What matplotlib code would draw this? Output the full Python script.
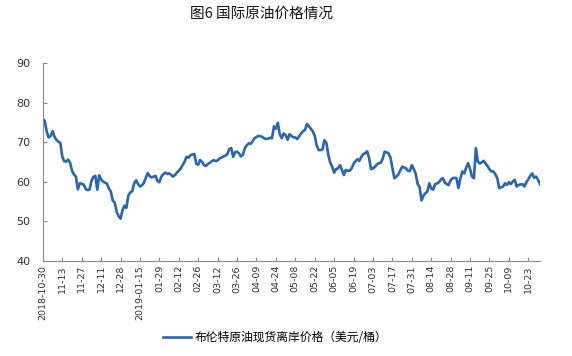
import numpy as np
import matplotlib
matplotlib.use("Agg")
import matplotlib.pyplot as plt

plt.rcParams["font.family"] = ["Noto Sans CJK SC", "DejaVu Sans"]

title = "图6 国际原油价格情况"
series_name = "布伦特原油现货离岸价格（美元/桶）"

# Brent spot price, one value per trading day
brent = [
    75.9, 75.3, 72.6, 71.2, 71.6, 72.8, 71.3, 70.6, 70.1, 69.8,
    66.3, 65.2, 65.1, 65.6, 64.8, 62.8, 61.8, 61.3, 58.1, 59.6,
    59.5, 59.3, 58.2, 57.9, 58.0, 60.2, 61.2, 61.5, 58.0, 61.6,
    60.6, 60.0, 59.8, 59.5, 58.3, 57.5, 55.2, 54.8, 52.4, 51.3,
    50.7, 52.8, 54.0, 53.4, 56.5, 57.3, 57.6, 59.6, 60.4, 59.4,
    58.8, 59.1, 59.7, 61.0, 62.2, 61.4, 61.1, 61.3, 61.5, 60.2,
    59.9, 61.3, 61.9, 62.3, 62.0, 62.1, 61.8, 61.3, 61.7, 62.3,
    62.8, 63.4, 64.2, 65.1, 66.3, 66.1, 66.7, 66.9, 67.0, 64.5,
    64.3, 65.5, 65.0, 64.2, 64.0, 64.5, 64.8, 65.2, 65.5, 65.2,
    65.4, 65.9, 66.1, 66.4, 66.6, 67.0, 68.3, 68.5, 66.3, 67.5,
    67.6, 67.2, 66.4, 66.8, 68.5, 69.2, 69.7, 69.6, 70.2, 71.0,
    71.3, 71.6, 71.5, 71.3, 71.0, 70.8, 70.9, 71.1, 71.0, 74.0,
    73.4, 74.9, 72.0, 71.0, 72.2, 71.8, 70.6, 72.0, 71.6, 71.2,
    71.2, 70.8, 71.5, 72.2, 72.8, 73.1, 74.6, 74.0, 73.4, 72.7,
    71.6, 69.2, 68.0, 68.0, 68.2, 70.5, 69.8, 66.8, 64.8, 63.8,
    62.3, 63.2, 63.4, 64.2, 63.0, 61.7, 63.0, 62.8, 62.8, 63.4,
    64.5, 65.2, 65.7, 65.3, 66.3, 67.0, 67.2, 67.7, 66.0, 63.2,
    63.4, 63.8, 64.4, 64.7, 64.8, 65.8, 67.6, 67.4, 67.2, 66.1,
    63.5, 60.9, 61.3, 61.8, 62.8, 63.8, 63.6, 63.4, 62.8, 62.7,
    64.2, 63.2, 62.0, 59.5, 58.6, 55.3, 56.5, 57.1, 57.5, 59.6,
    58.3, 58.0, 59.4, 59.6, 59.9, 60.6, 60.9, 59.8, 59.4, 59.2,
    60.4, 60.9, 61.0, 60.9, 58.4, 60.8, 62.6, 62.1, 63.6, 64.7,
    63.2, 61.3, 60.9, 68.5, 65.1, 64.6, 64.9, 65.3, 64.6, 64.0,
    63.1, 62.6, 62.6, 61.9, 60.9, 58.4, 58.6, 58.8, 59.6, 59.2,
    59.9, 59.4, 60.1, 60.5, 58.8, 59.2, 59.3, 59.4, 58.8, 59.9,
    60.6, 61.5, 62.1, 61.0, 61.3, 60.5, 59.4,
]

# one label every 10 trading days
tick_labels = [
    "2018-10-30", "11-13", "11-27", "12-11", "12-28", "2019-01-15",
    "01-29", "02-12", "02-26", "03-12", "03-26", "04-09", "04-24",
    "05-08", "05-22", "06-05", "06-19", "07-03", "07-17", "07-31",
    "08-14", "08-28", "09-11", "09-25", "10-09", "10-23",
]
y_ticks = [40, 50, 60, 70, 80, 90]

fig = plt.figure(figsize=(5.72, 3.56), dpi=100)
ax = fig.add_axes([0.075, 0.267, 0.869, 0.556])

x = np.arange(len(brent))
ax.plot(x, brent, color="#2866B1", linewidth=1.9, label=series_name)

ax.set_xlim(0, len(brent) - 1)
ax.set_ylim(40, 90)
ax.set_yticks(y_ticks)
ax.set_xticks(np.arange(len(tick_labels)) * 10)
ax.set_xticklabels(tick_labels, rotation=90, fontsize=6.8, family="DejaVu Sans")
ax.tick_params(axis="y", labelsize=8, direction="in", length=3, pad=9, colors="#898989", labelcolor="#333333")
ax.tick_params(axis="x", direction="in", length=3, pad=3, colors="#898989", labelcolor="#333333")
for lbl in ax.get_yticklabels():
    lbl.set_family("DejaVu Sans")

for side in ["top", "right"]:
    ax.spines[side].set_visible(False)
for side in ["left", "bottom"]:
    ax.spines[side].set_color("#898989")
    ax.spines[side].set_linewidth(0.8)

fig.text(0.458, 0.96, title, ha="center", va="center", fontsize=10.5, color="#111111")

fig.legend(loc="center", bbox_to_anchor=(0.481, 0.053), frameon=False,
           fontsize=8.5, handlelength=2.4, handletextpad=0.3)

fig.savefig("out.png", dpi=100)
